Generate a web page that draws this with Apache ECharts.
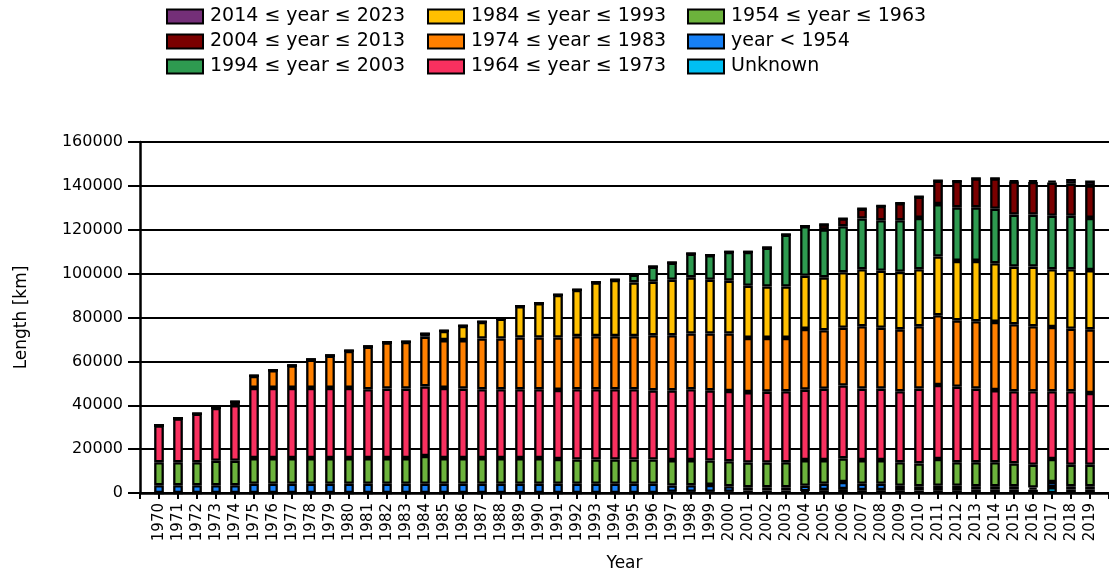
<!DOCTYPE html>
<html>
<head>
<meta charset="utf-8">
<script src="https://cdn.jsdelivr.net/npm/echarts@6/dist/echarts.min.js"></script>
<style>
html,body{margin:0;padding:0;background:#fff;overflow:hidden;}
#chart{width:1109px;height:577px;}
</style>
</head>
<body>
<div id="chart"></div>
<script>
const years = [1970,1971,1972,1973,1974,1975,1976,1977,1978,1979,1980,1981,1982,1983,1984,1985,1986,1987,1988,1989,1990,1991,1992,1993,1994,1995,1996,1997,1998,1999,2000,2001,2002,2003,2004,2005,2006,2007,2008,2009,2010,2011,2012,2013,2014,2015,2016,2017,2018,2019];

const unknown  = [0,0,0,0,0,0,0,0,0,0,0,0,0,0,0,0,0,0,0,0,0,0,0,0,0,0,0,600,600,600,600,1200,1200,1200,800,1300,1800,1300,1300,1300,1100,1300,1300,1500,1500,1500,1500,2700,1500,1500];
const before1954 = [3500,3500,3500,3500,3500,4200,4200,4200,4200,4200,4200,4200,4200,4200,4200,4200,4200,4200,4200,4200,4200,4200,4200,4200,4200,4200,4200,2800,2900,3100,2500,1400,1400,1400,2500,2900,3200,2900,2900,2000,1900,2000,2000,1600,1600,1600,1000,2300,1500,1500];
const y1954 = [10500,10500,10500,11200,11200,11700,11700,11700,11700,11700,11700,11700,11700,11700,12700,11700,11700,11700,11700,11700,11700,11300,11100,11100,11100,11100,11100,11600,11500,11100,11400,11300,11300,11400,11700,10800,10800,10800,10800,10700,10500,12200,10700,10900,10900,10400,10400,10500,9900,9900];
const y1964 = [16800,20000,22100,24100,25300,32000,32000,32000,32000,32000,32000,31400,31700,31700,31700,32000,31700,31400,31400,31400,31400,31500,32000,32000,32000,32000,31500,31800,32300,32000,32000,32100,32300,32400,32100,32500,33200,32600,32600,32400,34100,33700,34400,33600,32900,32900,33500,30900,33500,32700];
const y1974 = [0,0,0,0,1500,5500,8100,10200,12900,14700,16900,19400,21000,21300,22700,21800,22100,23100,23100,23600,23600,23900,24200,24200,24200,24200,25100,25100,25400,25900,26200,24700,24500,24300,27700,26700,26300,28400,27700,28200,28400,31800,30300,30700,31100,30500,29600,29300,28500,29000];
const y1984 = [0,0,0,0,0,0,0,0,0,0,0,0,0,0,1200,4200,6500,7600,9100,14300,15600,19400,21100,24500,25600,24500,24400,25300,25600,24500,24100,23800,23400,23400,24200,24100,25300,26000,26000,26200,26000,26800,27100,27500,26700,26300,27200,26300,27100,27000];
const y1994 = [0,0,0,0,0,0,0,0,0,0,0,0,0,0,0,0,0,0,0,0,0,0,0,0,0,3500,6900,7800,10800,11200,13100,15400,17700,23700,22600,21800,21000,23100,23000,23500,23400,23900,24400,24400,24900,23700,23700,24400,24400,23800];
const y2004 = [0,0,0,0,0,0,0,0,0,0,0,0,0,0,0,0,0,0,0,0,0,0,0,0,0,0,0,0,0,0,0,0,0,0,0,2300,3500,4500,6600,7800,9700,10700,12000,13200,13800,15100,14900,15100,14600,14800];
const y2014 = [0,0,0,0,0,0,0,0,0,0,0,0,0,0,0,0,0,0,0,0,0,0,0,0,0,0,0,0,0,0,0,0,0,0,0,0,0,0,0,0,0,0,0,0,0,400,600,900,2100,2200];

const yTicks = [0,20000,40000,60000,80000,100000,120000,140000,160000];

const seriesDefs = [
  {name:'Unknown', data:unknown, color:'#00BFF3'},
  {name:'year < 1954', data:before1954, color:'#1780F5'},
  {name:'1954 ≤ year ≤ 1963', data:y1954, color:'#6CB33C'},
  {name:'1964 ≤ year ≤ 1973', data:y1964, color:'#F8305F'},
  {name:'1974 ≤ year ≤ 1983', data:y1974, color:'#FF8000'},
  {name:'1984 ≤ year ≤ 1993', data:y1984, color:'#FFC000'},
  {name:'1994 ≤ year ≤ 2003', data:y1994, color:'#2E9A50'},
  {name:'2004 ≤ year ≤ 2013', data:y2004, color:'#7A0000'},
  {name:'2014 ≤ year ≤ 2023', data:y2014, color:'#742F78'}
];

// padded category list: an empty slot at each end of the axis
const categories = [''].concat(years.map(String), ['']);

const FONT = 'DejaVu Sans';
const series = seriesDefs.map(s => ({
  name: s.name,
  type: 'bar',
  stack: 'total',
  barWidth: 9.7,
  data: [null].concat(s.data, [null]),
  itemStyle: {color: s.color, borderColor:'#000', borderWidth:2.3},
  emphasis: {disabled:true},
  animation:false
}));

function legendAt(left, names){
  return {
    orient:'vertical', left:left, top:7, padding:0,
    data:names, icon:'rect',
    itemWidth:36, itemHeight:14, itemGap:6,
    textStyle:{fontFamily:FONT, fontSize:19, color:'#000', padding:[0,0,0,2]},
    selectedMode:false
  };
}

const chart = echarts.init(document.getElementById('chart'), null, {renderer:'canvas'});
chart.setOption({
  animation:false,
  textStyle:{fontFamily:FONT},
  legend:[
    legendAt(166, ['2014 ≤ year ≤ 2023','2004 ≤ year ≤ 2013','1994 ≤ year ≤ 2003']),
    legendAt(427, ['1984 ≤ year ≤ 1993','1974 ≤ year ≤ 1983','1964 ≤ year ≤ 1973']),
    legendAt(687, ['1954 ≤ year ≤ 1963','year < 1954','Unknown'])
  ],
  grid:{left:140, right:0, top:142, bottom:81, containLabel:false},
  xAxis:{
    type:'category', data:categories, boundaryGap:false,
    name:'Year', nameLocation:'middle', nameGap:62,
    nameTextStyle:{fontFamily:FONT, fontSize:17, color:'#000'},
    axisLine:{show:true, lineStyle:{color:'#000', width:2.5}},
    axisTick:{show:true, length:6, interval:0, lineStyle:{color:'#000', width:2}},
    axisLabel:{rotate:90, margin:10, interval:0, fontFamily:FONT, fontSize:15, color:'#000'},
    splitLine:{show:false}
  },
  yAxis:{
    type:'value', min:yTicks[0], max:yTicks[yTicks.length-1], interval:20000,
    name:'Length [km]', nameLocation:'middle', nameGap:110,
    nameTextStyle:{fontFamily:FONT, fontSize:17, color:'#000'},
    axisLine:{show:true, lineStyle:{color:'#000', width:2.5}},
    axisTick:{show:true, length:12, lineStyle:{color:'#000', width:2}},
    axisLabel:{margin:17, fontFamily:FONT, fontSize:16, color:'#000', formatter: v => String(v)},
    splitLine:{show:true, lineStyle:{color:'#000', width:2}}
  },
  series: series
});
</script>
</body>
</html>
